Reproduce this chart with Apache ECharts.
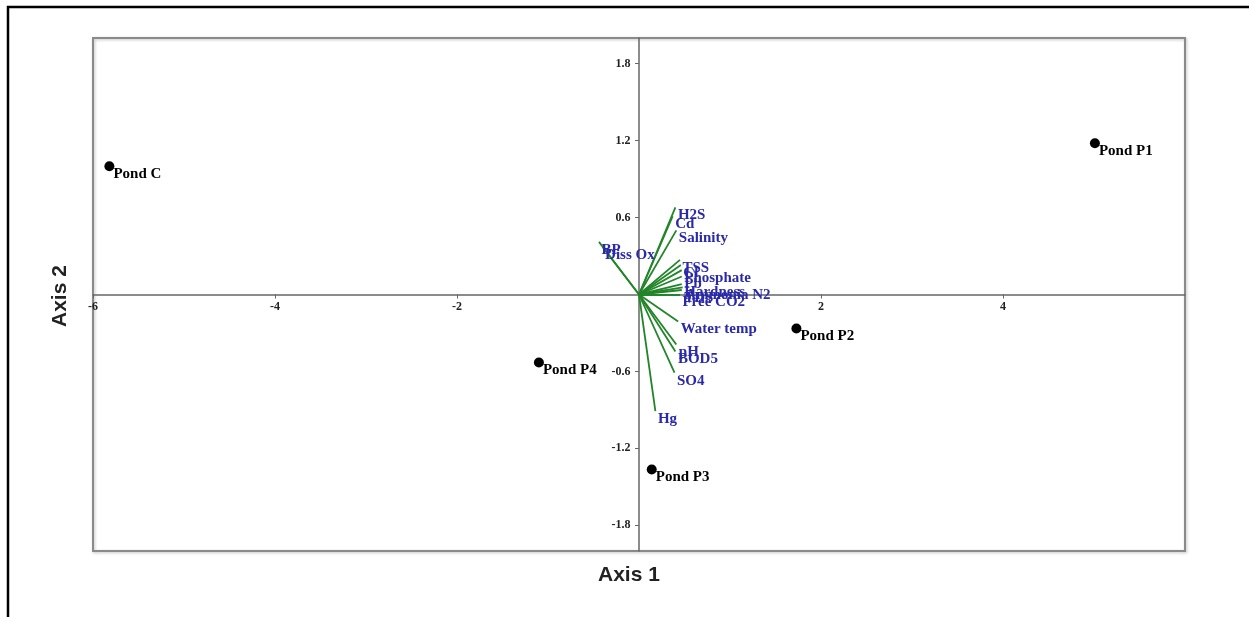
<!DOCTYPE html>
<html>
<head>
<meta charset="utf-8">
<script src="https://cdn.jsdelivr.net/npm/echarts@6/dist/echarts.min.js"></script>
<style>
  html, body { margin: 0; padding: 0; background: #fff; }
  #chart { width: 1249px; height: 617px; }
</style>
</head>
<body>
<div id="chart"></div>
<script>
// site scores
const pondNames = ['Pond C', 'Pond P1', 'Pond P2', 'Pond P3', 'Pond P4'];
const pondAxis1 = [-5.82, 5.01, 1.73, 0.14, -1.10];
const pondAxis2 = [1.00, 1.18, -0.265, -1.365, -0.53];

// variable vectors (biplot arrows)
const varNames = ['H2S', 'Cd', 'Salinity', 'BP', 'Diss Ox', 'TSS', 'Cl', 'Phosphate', 'Pb',
  'Hardness', 'Ammonia N2', 'TDS', 'Free CO2', 'Water temp', 'pH', 'BOD5', 'SO4', 'Hg'];
const varAxis1 = [0.40, 0.37, 0.41, -0.44, -0.40, 0.45, 0.46, 0.47, 0.47,
  0.47, 0.48, 0.47, 0.45, 0.43, 0.41, 0.40, 0.39, 0.18];
const varAxis2 = [0.68, 0.61, 0.50, 0.41, 0.37, 0.27, 0.23, 0.19, 0.14,
  0.08, 0.055, 0.035, 0.0, -0.21, -0.39, -0.445, -0.61, -0.91];

// tick labels
const xTicks = [-6, -4, -2, 2, 4];
const yTicks = [-1.8, -1.2, -0.6, 0.6, 1.2, 1.8];

const chart = echarts.init(document.getElementById('chart'));

const serifBold = { fontFamily: 'Liberation Serif', fontWeight: 'bold' };
const hidden = { color: 'rgba(0,0,0,0)', opacity: 1 };

chart.setOption({
  animation: false,
  grid: {
    left: 93, top: 38, width: 1092, height: 513,
    show: true, borderColor: '#8a8a8a', borderWidth: 2,
    shadowColor: 'rgba(0,0,0,0.25)', shadowBlur: 3, shadowOffsetX: 1, shadowOffsetY: 1
  },
  xAxis: {
    type: 'value', min: -6, max: 6,
    axisLine: { onZero: true, lineStyle: { color: '#666', width: 1.5 } },
    axisTick: { show: true, length: 4, lineStyle: { color: '#666' }, customValues: xTicks },
    axisLabel: { show: false },
    splitLine: { show: false }
  },
  yAxis: {
    type: 'value', min: -2, max: 2,
    axisLine: { onZero: true, lineStyle: { color: '#666', width: 1.5 } },
    axisTick: { show: true, length: 4, lineStyle: { color: '#666' }, customValues: yTicks },
    axisLabel: { show: false },
    splitLine: { show: false }
  },
  graphic: [
    {
      type: 'polyline', silent: true,
      shape: { points: [[8, 617], [8, 7], [1249, 7]] },
      style: { stroke: '#000', lineWidth: 2.5, fill: null }
    },
    {
      type: 'text', left: 598, top: 565,
      style: { text: 'Axis 1', font: 'bold 21px "Liberation Sans"', fill: '#222' }
    },
    {
      type: 'text', x: 50, y: 327, rotation: Math.PI / 2,
      style: { text: 'Axis 2', font: 'bold 21px "Liberation Sans"', fill: '#222' }
    }
  ],
  series: [
    {
      name: 'xTickLabels',
      type: 'scatter', silent: true,
      symbolSize: 1, itemStyle: hidden,
      data: xTicks.map(t => [t, 0]),
      label: Object.assign({
        show: true, position: 'bottom', distance: 6,
        formatter: p => String(p.data[0]), fontSize: 12, color: '#222'
      }, serifBold),
      z: 2
    },
    {
      name: 'yTickLabels',
      type: 'scatter', silent: true,
      symbolSize: 1, itemStyle: hidden,
      data: yTicks.map(t => [0, t]),
      label: Object.assign({
        show: true, position: 'left', distance: 8,
        formatter: p => p.data[1].toFixed(1), fontSize: 12, color: '#222'
      }, serifBold),
      z: 2
    },
    {
      name: 'vectors',
      type: 'lines',
      coordinateSystem: 'cartesian2d',
      polyline: false,
      lineStyle: { color: '#23852a', width: 1.8, opacity: 1 },
      data: varNames.map((n, i) => ({ coords: [[0, 0], [varAxis1[i], varAxis2[i]]] })),
      z: 3
    },
    {
      name: 'variables',
      type: 'scatter', silent: true,
      symbolSize: 1,
      itemStyle: hidden,
      data: varNames.map((n, i) => [varAxis1[i], varAxis2[i], n]),
      label: Object.assign({
        show: true, position: 'right', distance: 2, offset: [0, 8],
        formatter: p => p.data[2], fontSize: 15, color: '#2a2aa8'
      }, serifBold),
      z: 4
    },
    {
      name: 'ponds',
      type: 'scatter',
      symbol: 'circle',
      symbolSize: 10,
      itemStyle: { color: '#000', opacity: 1 },
      data: pondNames.map((n, i) => [pondAxis1[i], pondAxis2[i], n]),
      label: Object.assign({
        show: true, position: 'right', distance: -1, offset: [0, 8],
        formatter: p => p.data[2], fontSize: 15, color: '#000'
      }, serifBold),
      z: 5
    }
  ]
});
</script>
</body>
</html>
